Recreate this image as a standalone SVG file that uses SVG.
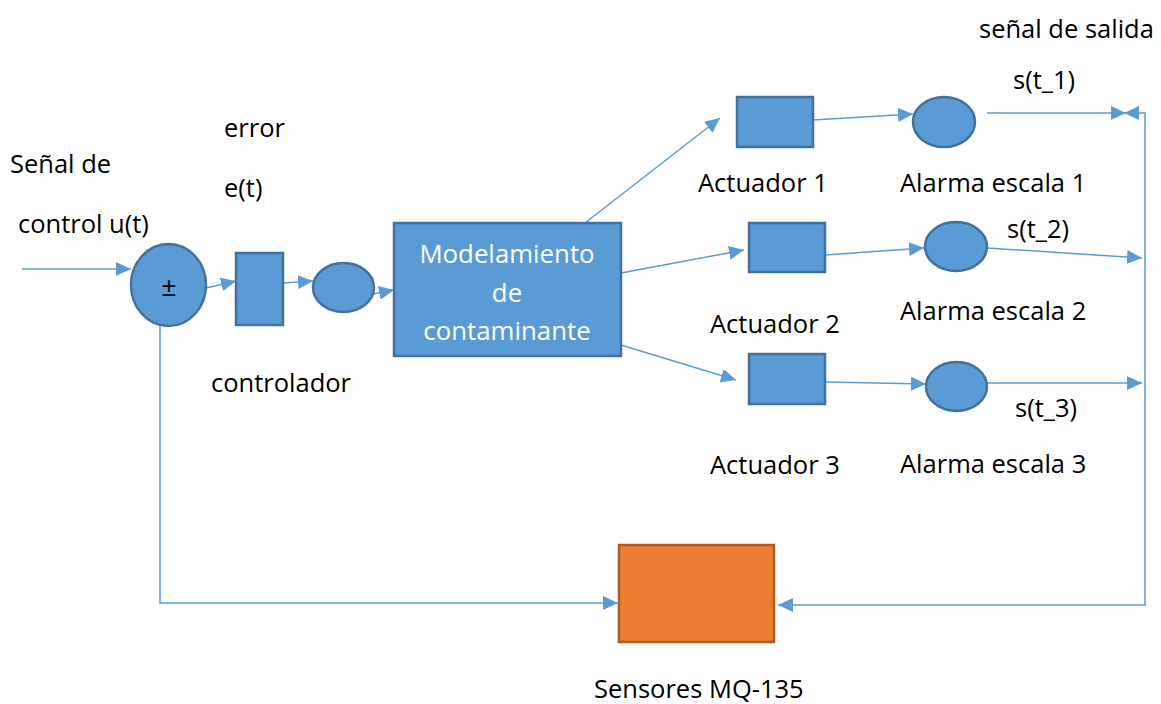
<svg xmlns="http://www.w3.org/2000/svg" width="1161" height="704" viewBox="0 0 1161 704">
<style>
.blk{fill:#5B9BD5;stroke:#41719C;stroke-width:2.5}
.org{fill:#ED7D31;stroke:#AE5A21;stroke-width:2.5}
.con{fill:none;stroke:#5B9BD5;stroke-width:1.5}
.t{font-family:"Open Sans","Liberation Sans",sans-serif;font-size:25.5px;fill:#000}
.w{font-family:"Open Sans","Liberation Sans",sans-serif;font-size:25.8px;fill:#fff;text-anchor:middle}
</style>
<defs>
<marker id="ah" markerUnits="userSpaceOnUse" markerWidth="16" markerHeight="14" refX="15" refY="7" orient="auto">
<path d="M0,0 L15,7 L0,14 Z" fill="#5B9BD5"/>
</marker>
<marker id="ahs" markerUnits="userSpaceOnUse" markerWidth="16" markerHeight="14" refX="15" refY="7" orient="auto-start-reverse">
<path d="M0,0 L15,7 L0,14 Z" fill="#5B9BD5"/>
</marker>
</defs>
<rect width="1161" height="704" fill="#fff"/>
<g id="connectors">
<line class="con" x1="22" y1="269" x2="131" y2="269" marker-end="url(#ah)"/>
<line class="con" x1="206" y1="288" x2="236" y2="281" marker-end="url(#ah)"/>
<line class="con" x1="283" y1="283" x2="313" y2="281" marker-end="url(#ah)"/>
<line class="con" x1="373" y1="294" x2="394" y2="290" marker-end="url(#ah)"/>
<line class="con" x1="585" y1="223" x2="720" y2="118" marker-end="url(#ah)"/>
<line class="con" x1="621" y1="273" x2="744" y2="250" marker-end="url(#ah)"/>
<line class="con" x1="621" y1="345" x2="736" y2="380" marker-end="url(#ah)"/>
<line class="con" x1="813" y1="120" x2="913" y2="114" marker-end="url(#ah)"/>
<line class="con" x1="825" y1="255" x2="924" y2="248" marker-end="url(#ah)"/>
<line class="con" x1="825" y1="382" x2="926" y2="384" marker-end="url(#ah)"/>
<line class="con" x1="987" y1="113" x2="1126" y2="113" marker-end="url(#ah)"/>
<line class="con" x1="987" y1="248" x2="1142" y2="258" marker-end="url(#ah)"/>
<line class="con" x1="987" y1="383" x2="1142" y2="383" marker-end="url(#ah)"/>
<polyline class="con" points="1124,113 1145,113 1145,605 778,605" marker-start="url(#ahs)" marker-end="url(#ah)"/>
<polyline class="con" points="160,325 160,603 618,603" marker-end="url(#ah)"/>
</g>
<g id="sum">
<ellipse class="blk" cx="168.5" cy="285" rx="37.5" ry="41"/>
<text x="169" y="296" text-anchor="middle" style="font-family:'Liberation Sans',sans-serif;font-size:26px;fill:#000">±</text>
</g>
<g id="controlador">
<rect class="blk" x="236" y="253" width="47" height="72"/>
</g>
<g id="ellipse0">
<ellipse class="blk" cx="343.5" cy="287.5" rx="30.5" ry="24.5"/>
</g>
<g id="modelamiento">
<rect class="blk" x="394" y="223" width="227" height="133"/>
<text class="w" x="507" y="263">Modelamiento</text>
<text class="w" x="507" y="302">de</text>
<text class="w" x="507" y="340">contaminante</text>
</g>
<g id="actuador1"><rect class="blk" x="737" y="97" width="76" height="50"/></g>
<g id="actuador2"><rect class="blk" x="749" y="223" width="76" height="49"/></g>
<g id="actuador3"><rect class="blk" x="749" y="354" width="76" height="50"/></g>
<g id="alarma1"><ellipse class="blk" cx="944" cy="122" rx="31" ry="25"/></g>
<g id="alarma2"><ellipse class="blk" cx="956" cy="246.5" rx="31" ry="24.5"/></g>
<g id="alarma3"><ellipse class="blk" cx="956.5" cy="386.5" rx="30.5" ry="24.5"/></g>
<g id="sensores"><rect class="org" x="619" y="545" width="155" height="97"/></g>
<g id="labels">
<text class="t" x="979" y="38">señal de salida</text>
<text class="t" x="1013" y="89">s(t_1)</text>
<text class="t" x="224" y="137">error</text>
<text class="t" x="224" y="197">e(t)</text>
<text class="t" x="10" y="173">Señal de</text>
<text class="t" x="18" y="233">control u(t)</text>
<text class="t" x="211" y="392">controlador</text>
<text class="t" x="698" y="192">Actuador 1</text>
<text class="t" x="900" y="192">Alarma escala 1</text>
<text class="t" x="1007" y="238">s(t_2)</text>
<text class="t" x="710" y="333">Actuador 2</text>
<text class="t" x="900" y="320">Alarma escala 2</text>
<text class="t" x="1015" y="417">s(t_3)</text>
<text class="t" x="710" y="474">Actuador 3</text>
<text class="t" x="900" y="473">Alarma escala 3</text>
<text class="t" x="594" y="698">Sensores MQ-135</text>
</g>
</svg>
